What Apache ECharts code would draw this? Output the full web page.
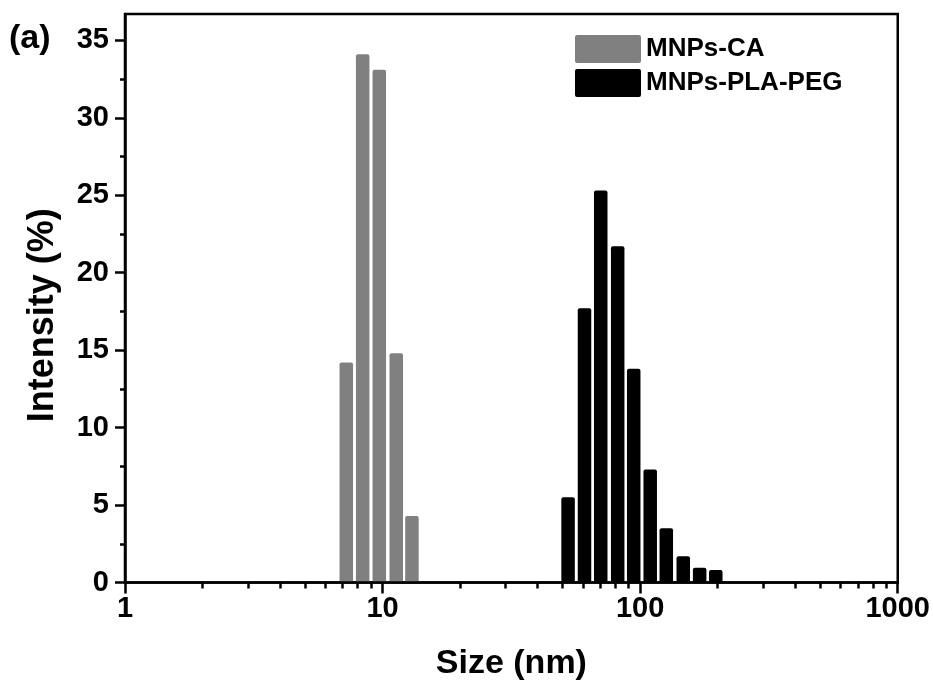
<!DOCTYPE html>
<html>
<head>
<meta charset="utf-8">
<script src="https://cdn.jsdelivr.net/npm/echarts@6/dist/echarts.min.js"></script>
<style>html,body{margin:0;padding:0;background:#fff;}#chart{width:933px;height:690px;}</style>
</head>
<body>
<div id="chart"></div>
<script>
// ---- data ----
var caSize = [7.23, 8.37, 9.71, 11.3, 13.0];
var caIntensity = [14.2, 34.1, 33.1, 14.8, 4.3];
var pegSize = [52.5, 60.8, 70.3, 81.8, 94.4, 109.4, 126.3, 147.0, 170.2, 196.6];
var pegIntensity = [5.5, 17.7, 25.3, 21.7, 13.8, 7.3, 3.5, 1.7, 0.95, 0.8];
var xMajorTicks = [1, 10, 100, 1000];
var xMinorTicks = [2, 3, 4, 5, 6, 7, 8, 9, 20, 30, 40, 50, 60, 70, 80, 90, 200, 300, 400, 500, 600, 700, 800, 900];
var yMajorTicks = [0, 5, 10, 15, 20, 25, 30, 35];
var yMinorTicks = [2.5, 7.5, 12.5, 17.5, 22.5, 27.5, 32.5];
var seriesNames = ['MNPs-CA', 'MNPs-PLA-PEG'];

var FONT = '"Liberation Sans", Arial, sans-serif';

function zip(a, b) { return a.map(function (v, i) { return [v, b[i]]; }); }

function barRenderer(color) {
  return function (params, api) {
    var x = api.value(0), y = api.value(1);
    var top = api.coord([x, y]);
    var base = api.coord([x, 0]);
    var w = 13.5;
    return {
      type: 'rect',
      shape: { x: top[0] - w / 2, y: top[1], width: w, height: base[1] - top[1], r: [2, 2, 0, 0] },
      style: { fill: color }
    };
  };
}

var chart = echarts.init(document.getElementById('chart'), null, { renderer: 'canvas' });
var option = {
  backgroundColor: '#fff',
  animation: false,
  textStyle: { fontFamily: FONT },
  grid: { left: 125, right: 35, top: 14, bottom: 107.5, show: true, borderColor: '#000', borderWidth: 2.5, backgroundColor: 'transparent' },
  legend: {
    orient: 'vertical', left: 575, top: 35, padding: 0, itemWidth: 66, itemHeight: 28, itemGap: 6,
    icon: 'path://M2,0 L64,0 Q66,0 66,2 L66,26 Q66,28 64,28 L2,28 Q0,28 0,26 L0,2 Q0,0 2,0 Z',
    textStyle: { fontFamily: FONT, fontSize: 26, fontWeight: 'bold', color: '#000' },
    data: seriesNames
  },
  graphic: [{
    type: 'text', left: 9, top: 22,
    style: { text: '(a)', font: 'bold 34px ' + FONT, fill: '#000' }
  }],
  xAxis: [{
    type: 'log', logBase: 10, min: 1, max: 1000, position: 'bottom', z: 5,
    name: 'Size (nm)', nameLocation: 'middle', nameGap: 64,
    nameTextStyle: { fontFamily: FONT, fontSize: 34, fontWeight: 'bold', color: '#000' },
    axisLine: { show: true, lineStyle: { color: '#000', width: 2.5 } },
    axisTick: { show: true, inside: false, length: 11, customValues: xMajorTicks, lineStyle: { color: '#000', width: 2.5 } },
    axisLabel: { show: true, customValues: xMajorTicks, margin: 12, fontFamily: FONT, fontSize: 29, fontWeight: 'bold', color: '#000',
      formatter: function (v) { return String(Math.round(v)); } },
    splitLine: { show: false }, minorTick: { show: false }
  }, {
    type: 'log', logBase: 10, min: 1, max: 1000, position: 'bottom', z: 5,
    axisLine: { show: false },
    axisTick: { show: true, inside: false, length: 6, customValues: xMinorTicks, lineStyle: { color: '#000', width: 2.5 } },
    axisLabel: { show: false },
    splitLine: { show: false }
  }],
  yAxis: [{
    type: 'value', min: 0, max: 36.7, position: 'left', z: 5,
    name: 'Intensity (%)', nameLocation: 'middle', nameGap: 64,
    nameTextStyle: { fontFamily: FONT, fontSize: 36, fontWeight: 'bold', color: '#000', padding: [0, 34, 0, 0] },
    axisLine: { show: true, lineStyle: { color: '#000', width: 2.5 } },
    axisTick: { show: true, inside: false, length: 10, customValues: yMajorTicks, lineStyle: { color: '#000', width: 2.5 } },
    axisLabel: { show: true, customValues: yMajorTicks, margin: 16, fontFamily: FONT, fontSize: 29, fontWeight: 'bold', color: '#000' },
    splitLine: { show: false }
  }, {
    type: 'value', min: 0, max: 36.7, position: 'left', z: 5,
    axisLine: { show: false },
    axisTick: { show: true, inside: false, length: 5, customValues: yMinorTicks, lineStyle: { color: '#000', width: 2.5 } },
    axisLabel: { show: false },
    splitLine: { show: false }
  }],
  series: [{
    name: seriesNames[0], type: 'custom', xAxisIndex: 0, yAxisIndex: 0,
    itemStyle: { color: '#808080' },
    renderItem: barRenderer('#808080'),
    encode: { x: 0, y: 1 },
    data: zip(caSize, caIntensity)
  }, {
    name: seriesNames[1], type: 'custom', xAxisIndex: 0, yAxisIndex: 0,
    itemStyle: { color: '#000000' },
    renderItem: barRenderer('#000000'),
    encode: { x: 0, y: 1 },
    data: zip(pegSize, pegIntensity)
  }]
};
chart.setOption(option);
</script>
</body>
</html>
